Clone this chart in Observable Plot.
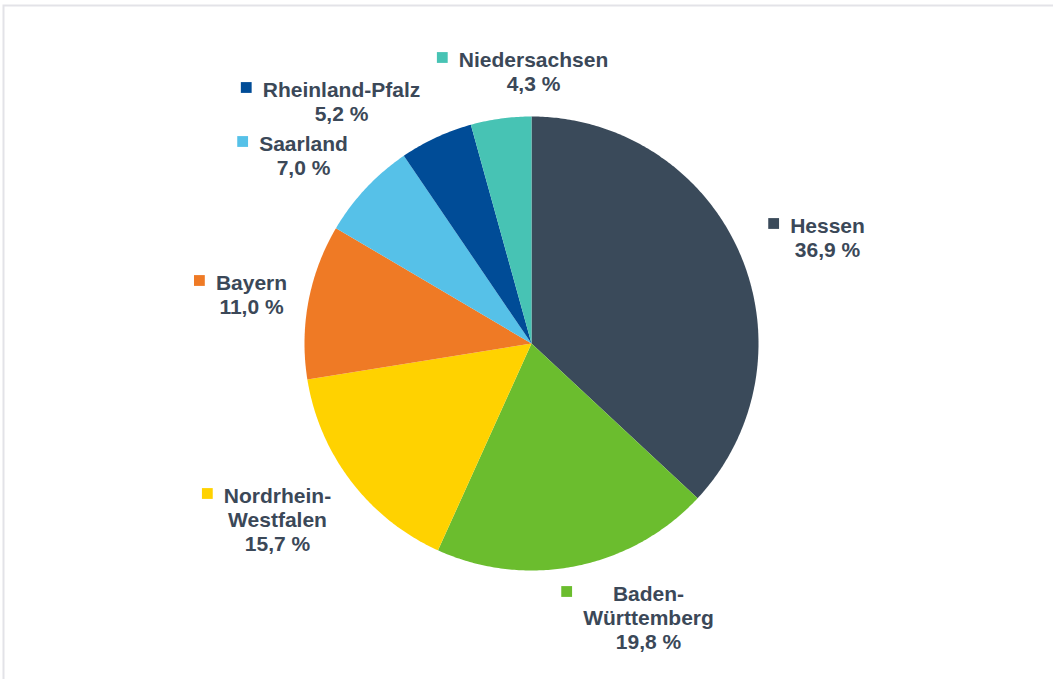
<!DOCTYPE html>
<html>
<head>
<meta charset="utf-8">
<script src="https://cdn.jsdelivr.net/npm/d3@7"></script>
<script src="https://cdn.jsdelivr.net/npm/@observablehq/plot@0.6"></script>
<style>
  html, body { margin: 0; padding: 0; background: #ffffff; }
  #chart svg { display: block; }
</style>
</head>
<body>
<div id="chart"></div>
<script>
// ---- data ----
const states = ["Hessen", "Baden-Württemberg", "Nordrhein-Westfalen", "Bayern", "Saarland", "Rheinland-Pfalz", "Niedersachsen"];
const shares = [36.9, 19.8, 15.7, 11.0, 7.0, 5.2, 4.3];
const labelLines = [
  ["Hessen", "36,9 %"],
  ["Baden-", "Württemberg", "19,8 %"],
  ["Nordrhein-", "Westfalen", "15,7 %"],
  ["Bayern", "11,0 %"],
  ["Saarland", "7,0 %"],
  ["Rheinland-Pfalz", "5,2 %"],
  ["Niedersachsen", "4,3 %"]
];

// ---- styles / layout ----
const colors = ["#3a4a5a", "#6bbd2e", "#ffd200", "#ef7a25", "#56c1e8", "#004c97", "#47c3b4"];
const W = 1053, H = 679;
const CX = 531, CY = 343, R = 227;
const FONT_SIZE = 21, LINE_H = 24;
const FONT = "Liberation Sans, Arial, Helvetica, sans-serif";
const TEXT_COLOR = "#3b4858";
// label anchor: text centre x and first-line baseline y (pixels, relative to pie centre)
const labelAnchor = [
  [296, -113], [117, 255], [-254, 157], [-280, -56], [-228, -195], [-190, -249], [2, -279]
];

// ---- pie geometry (from shares) ----
const pie = d3.pie().sort(null).value(d => d)(shares);
const slicePts = [];
pie.forEach((p, i) => {
  const n = Math.max(2, Math.ceil((p.endAngle - p.startAngle) / 0.01));
  slicePts.push({name: states[i], x: 0, y: 0});
  for (let k = 0; k <= n; k++) {
    const a = p.startAngle + (p.endAngle - p.startAngle) * k / n;
    slicePts.push({name: states[i], x: R * Math.sin(a), y: R * Math.cos(a)});
  }
  slicePts.push({name: states[i], x: 0, y: 0});
});

// ---- labels ----
const ctx = document.createElement("canvas").getContext("2d");
ctx.font = `bold ${FONT_SIZE}px ${FONT}`;
const labels = states.map((s, i) => {
  const [dx, dy] = labelAnchor[i];
  const maxW = d3.max(labelLines[i], t => ctx.measureText(t).width);
  return {
    name: s,
    text: labelLines[i].join("\n"),
    x: dx,
    y: -dy + FONT_SIZE * 0.71,        // top of first line (cap height)
    mx: dx - maxW / 2 - 11 - 5.5,
    my: -dy + 7
  };
});

const chart = Plot.plot({
  width: W,
  height: H,
  margin: 0,
  x: {domain: [-CX, W - CX], axis: null},
  y: {domain: [CY - H, CY], axis: null},
  color: {domain: states, range: colors},
  style: {fontFamily: FONT, background: "#ffffff"},
  marks: [
    Plot.frame({stroke: "#e3e3e8", strokeWidth: 2, insetTop: 5, insetLeft: 3, insetRight: -10, insetBottom: -10}),
    Plot.line(slicePts, {x: "x", y: "y", z: "name", fill: "name", stroke: "none", curve: "linear"}),
    Plot.dot(labels, {x: "mx", y: "my", symbol: "square", r: 6.1, fill: "name", stroke: "none"}),
    Plot.text(labels, {
      x: "x", y: "y", text: "text",
      lineAnchor: "top", lineHeight: LINE_H / FONT_SIZE,
      textAnchor: "middle",
      fontSize: FONT_SIZE, fontWeight: "bold", fill: TEXT_COLOR
    })
  ]
});
document.getElementById("chart").append(chart);
</script>
</body>
</html>
